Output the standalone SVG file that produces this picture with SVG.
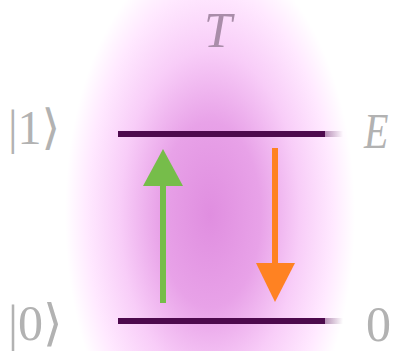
<svg xmlns="http://www.w3.org/2000/svg" width="397" height="351" viewBox="0 0 397 351">
<defs>
<radialGradient id="glow" gradientUnits="userSpaceOnUse" cx="0" cy="0" r="1" gradientTransform="translate(210 215) scale(145 265)">
<stop offset="0" stop-color="#e08ee0"/>
<stop offset="0.35" stop-color="#e8a2e8"/>
<stop offset="0.62" stop-color="#f8cdf8"/>
<stop offset="0.85" stop-color="#ffe9ff"/>
<stop offset="1" stop-color="#ffffff"/>
</radialGradient>
<linearGradient id="fadeR" x1="0" y1="0" x2="1" y2="0">
<stop offset="0" stop-color="#4a0a4a"/>
<stop offset="1" stop-color="#4a0a4a" stop-opacity="0"/>
</linearGradient>
</defs>
<style>
.lbl{font-family:"Liberation Serif","DejaVu Serif",serif;fill:#b2b2b2;}
.it{font-style:italic;}
.level{stroke:#4d0a4d;stroke-width:6;stroke-linecap:butt;}
</style>
<rect x="0" y="0" width="397" height="351" fill="#ffffff"/>
<rect x="0" y="0" width="397" height="351" fill="url(#glow)"/>
<g id="label-T"><text class="lbl it" x="218" y="47" font-size="50" text-anchor="middle" style="fill:#a98da9">T</text></g>
<g id="level-1">
<line class="level" x1="118" y1="134" x2="325" y2="134"/>
<rect x="325" y="131" width="18" height="6" fill="url(#fadeR)" opacity="0.4"/>
</g>
<g id="level-0">
<line class="level" x1="118" y1="321" x2="325" y2="321"/>
<rect x="325" y="318" width="18" height="6" fill="url(#fadeR)" opacity="0.4"/>
</g>
<g id="label-ket1"><text class="lbl" x="8" y="144" font-size="48">|1⟩</text></g>
<g id="label-ket0"><text class="lbl" x="8" y="340" font-size="50">|0⟩</text></g>
<g id="label-E"><text class="lbl it" x="0" y="0" font-size="50" transform="translate(364 148) scale(0.8 1)">E</text></g>
<g id="label-0"><text class="lbl" x="366" y="341" font-size="50">0</text></g>
<g id="connectors">
<g id="arrow-up">
<line x1="163" y1="303" x2="163" y2="184" stroke="#76bd4a" stroke-width="6"/>
<polygon points="163,149 183,186 143,186" fill="#76bd4a"/>
</g>
<g id="arrow-down">
<line x1="275" y1="148" x2="275" y2="265" stroke="#ff8222" stroke-width="6"/>
<polygon points="275,302 295,263 256,263" fill="#ff8222"/>
</g>
</g>
</svg>
